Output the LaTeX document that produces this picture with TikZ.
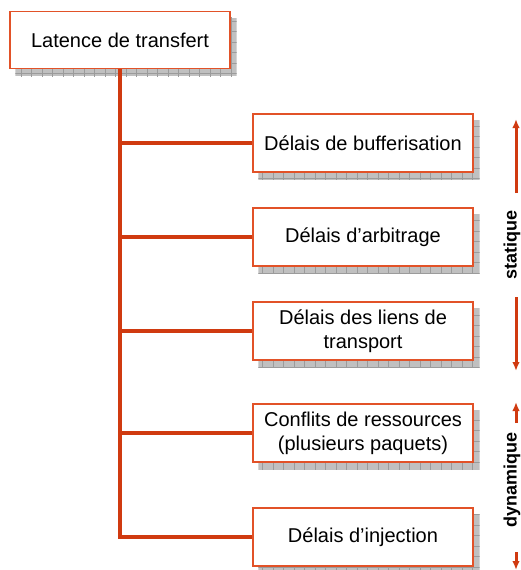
\documentclass[tikz,border=0pt]{standalone}
\usepackage{fontspec}
\setmainfont{Liberation Sans}
\usetikzlibrary{backgrounds,arrows.meta}

\definecolor{boxline}{RGB}{226,82,40}
\definecolor{treeline}{RGB}{208,58,16}
\definecolor{shadowfill}{RGB}{192,192,192}
\definecolor{shadowgrid}{RGB}{155,155,155}

\tikzset{
  delaybox/.style={draw=boxline, line width=1.3pt, fill=white,
    minimum width=220pt, minimum height=58pt, align=center,
    font=\fontsize{20}{24}\selectfont},
  treeedge/.style={draw=treeline, line width=3.5pt},
  sidearrow/.style={draw=treeline, line width=3pt,
    -{Latex[length=9pt,width=7.5pt]}},
  sidelabel/.style={rotate=90, anchor=base, inner sep=0pt,
    font=\fontsize{18}{20}\selectfont\bfseries}
}

\begin{document}
\begin{tikzpicture}[x=1pt,y=-1pt]
  \useasboundingbox (0,0) rectangle (521,570);
  % root and the five delay boxes
  \node[delaybox, minimum height=57pt] (latence) at (120,40) {Latence de transfert};
  \node[delaybox] (buff) at (363,143) {Délais de bufferisation};
  \node[delaybox] (arbi) at (363,237) {Délais d’arbitrage};
  \node[delaybox] (liens) at (363,331) {Délais des liens de\\transport};
  \node[delaybox] (confl) at (363,433) {Conflits de ressources\\(plusieurs paquets)};
  \node[delaybox] (inject) at (363,537) {Délais d’injection};
  % hatched shadows behind the boxes
  \begin{scope}[on background layer]
    \foreach \n in {latence,buff,arbi,liens,confl,inject}{
      \begin{scope}
        \clip ([shift={(6,7)}]\n.north west) rectangle ([shift={(6,7)}]\n.south east);
        \fill[shadowfill] ([shift={(6,7)}]\n.north west) rectangle ([shift={(6,7)}]\n.south east);
        \draw[shadowgrid, line width=0.6pt, step=10.5pt]
          ([shift={(0,0)}]\n.north west) grid ([shift={(12,12)}]\n.south east);
      \end{scope}
    }
  \end{scope}
  % tree
  \draw[treeedge] (latence.south) |- (inject.west);
  \foreach \n in {buff,arbi,liens,confl}
    \draw[treeedge] (latence.south |- \n.west) -- (\n.west);
  % side labels
  \node[sidelabel] (stat) at (516.5,245) {statique};
  \node[sidelabel] (dyn) at (516.5,480) {dynamique};
  \coordinate (stat up) at (516,193);
  \coordinate (stat top) at (516,119);
  \coordinate (stat down) at (516,297);
  \coordinate (stat bottom) at (516,371);
  \coordinate (dyn up) at (516,423);
  \coordinate (dyn top) at (516,402);
  \coordinate (dyn down) at (516,552);
  \coordinate (dyn bottom) at (516,570);
  \draw[sidearrow] (stat up) -- (stat top);
  \draw[sidearrow] (stat down) -- (stat bottom);
  \draw[sidearrow] (dyn up) -- (dyn top);
  \draw[sidearrow] (dyn down) -- (dyn bottom);
\end{tikzpicture}
\end{document}
